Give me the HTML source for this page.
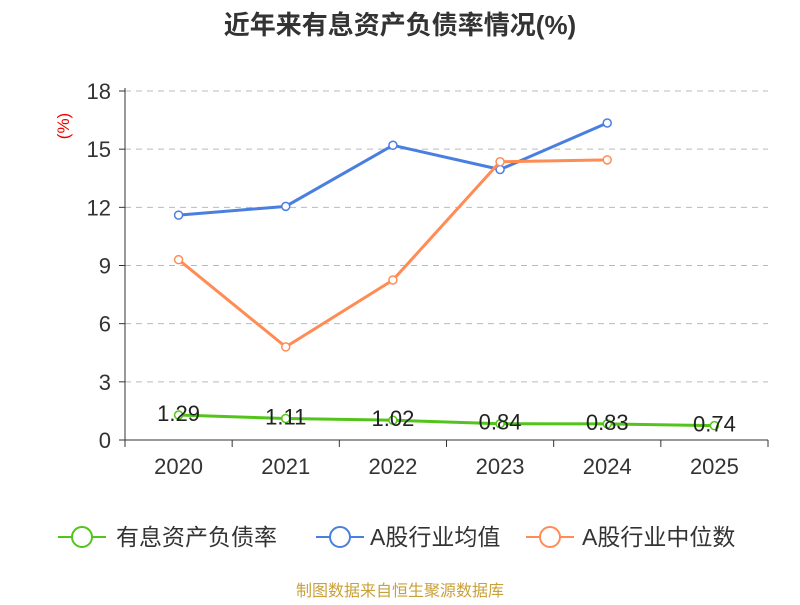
<!DOCTYPE html>
<html><head><meta charset="utf-8"><style>
body{margin:0;background:#fff;}
svg text{font-family:"Liberation Sans","Noto Sans CJK SC",sans-serif;}
</style></head><body>
<svg id="chart" width="800" height="600" xmlns="http://www.w3.org/2000/svg">
<text x="400" y="34" text-anchor="middle" font-size="26" font-weight="bold" fill="#333">近年来有息资产负债率情况(%)</text>
<text x="0" y="0" transform="translate(69,126) rotate(-90)" text-anchor="middle" font-size="17" fill="#e00">(%)</text>
<g id="grid"></g><g id="axes"></g><g id="series"></g>
<g>
<g><line x1="58" y1="537" x2="106" y2="537" stroke="#52c41a" stroke-width="2"/><circle cx="82" cy="537" r="10" fill="#fff" stroke="#52c41a" stroke-width="2"/><text x="116" y="545" font-size="23" fill="#333">有息资产负债率</text></g>
<g><line x1="316" y1="537" x2="364" y2="537" stroke="#4a7fe0" stroke-width="2"/><circle cx="340" cy="537" r="10" fill="#fff" stroke="#4a7fe0" stroke-width="2"/><text x="370" y="545" font-size="23" fill="#333">A股行业均值</text></g>
<g><line x1="526" y1="537" x2="574" y2="537" stroke="#ff8c55" stroke-width="2"/><circle cx="550" cy="537" r="10" fill="#fff" stroke="#ff8c55" stroke-width="2"/><text x="582" y="545" font-size="23" fill="#333">A股行业中位数</text></g>
</g>
<text x="400" y="596" text-anchor="middle" font-size="16" fill="#c9a13a">制图数据来自恒生聚源数据库</text>
</svg>
<script>
const categories=["2020","2021","2022","2023","2024","2025"];
const yTicks=[0,3,6,9,12,15,18];
const companyVals=[1.29,1.11,1.02,0.84,0.83,0.74];
const companyLabels=["1.29","1.11","1.02","0.84","0.83","0.74"];
const meanVals=[11.6,12.05,15.2,13.95,16.35];
const medianVals=[9.3,4.8,8.25,14.35,14.45];
const NS="http://www.w3.org/2000/svg";
const x0=125,x1=768,y0=440,y1=91;
const bw=(x1-x0)/categories.length;
function xs(i){return x0+bw*(i+0.5);}
function ys(v){return y0-(v/18)*(y0-y1);}
function mk(tag,attrs,parent){const e=document.createElementNS(NS,tag);for(const k in attrs)e.setAttribute(k,attrs[k]);parent.appendChild(e);return e;}
const grid=document.getElementById('grid'),axes=document.getElementById('axes'),ser=document.getElementById('series');
yTicks.forEach(t=>{
  if(t>0){const l=mk('line',{x1:x0,x2:x1,y1:ys(t),y2:ys(t),stroke:'#bbb','stroke-dasharray':'6,5'},grid);
  
  }
  const tk=mk('line',{x1:x0-6,x2:x0,y1:ys(t),y2:ys(t),stroke:'#333'},axes);
  
  
  const tx=mk('text',{x:x0-14,y:ys(t)+8,'text-anchor':'end','font-size':'22',fill:'#333'},axes);
  tx.textContent=t;
  
  
});
const ya=mk('line',{x1:x0,x2:x0,y1:y1-3,y2:y0,stroke:'#333'},axes);


const xa=mk('line',{x1:x0,x2:x1,y1:y0,y2:y0,stroke:'#333'},axes);


for(let i=0;i<=categories.length;i++){const tk=mk('line',{x1:x0+bw*i,x2:x0+bw*i,y1:y0,y2:y0+7,stroke:'#333'},axes);

}
categories.forEach((c,i)=>{const t=mk('text',{x:xs(i),y:y0+34,'text-anchor':'middle','font-size':'22',fill:'#333'},axes);t.textContent=c;

});
function drawSeries(vals,color,name){
  const g=mk('g',{},ser);
  
  
  const p=mk('polyline',{points:vals.map((v,i)=>xs(i)+','+ys(v)).join(' '),fill:'none',stroke:color,'stroke-width':3},g);
  
  
  vals.forEach((v,i)=>{const c=mk('circle',{cx:xs(i),cy:ys(v),r:4,fill:'#fff',stroke:color,'stroke-width':1.5},g);
  
  });
  return g;
}
drawSeries(meanVals,'#4a7fe0','industry-mean-series');
drawSeries(medianVals,'#ff8c55','industry-median-series');
const cg=drawSeries(companyVals,'#52c41a','company-series');
companyVals.forEach((v,i)=>{const t=mk('text',{x:xs(i),y:ys(v)+6,'text-anchor':'middle','font-size':'22',fill:'#222'},cg);t.textContent=companyLabels[i];

});
</script>
</body></html>
